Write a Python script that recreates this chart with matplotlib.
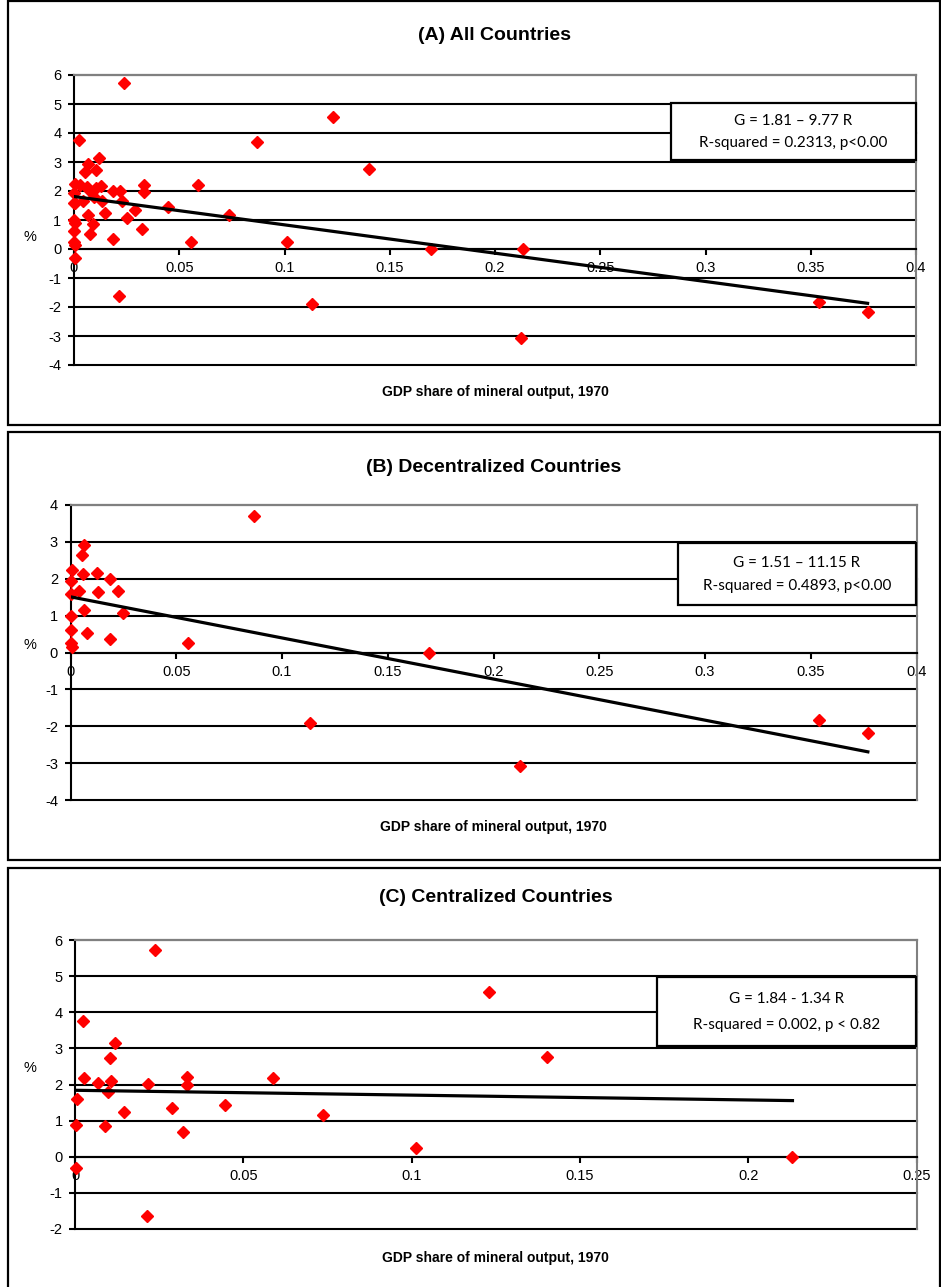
import numpy as np
import matplotlib.pyplot as plt
from matplotlib.patches import Rectangle

plt.rcParams['font.family'] = ['Liberation Sans', 'DejaVu Sans']
plt.rcParams['axes.unicode_minus'] = False

# decentralized countries (panel B)
x_dec = [0.0065, 0.0053, 0.0006, 0.0060, 0.0127, 0.0187, 0.0002, 0.0042, 0.0132, 0.0226,
         0.0000, 0.0065, 0.0250, 0.0000, 0.0000, 0.0077, 0.0187, 0.0557, 0.0000, 0.0006,
         0.0868, 0.1695, 0.1132, 0.2125, 0.3540, 0.3770]
y_dec = [2.92, 2.64, 2.24, 2.14, 2.16, 1.99, 1.94, 1.67, 1.65, 1.67,
         1.58, 1.16, 1.06, 0.99, 0.61, 0.52, 0.36, 0.25, 0.25, 0.14,
         3.70, 0.00, -1.90, -3.08, -1.84, -2.18]

# centralized countries (panel C)
x_cen = [0.0238, 0.0023, 0.0118, 0.0104, 0.0027, 0.0106, 0.0069, 0.0218, 0.0332, 0.0334,
         0.0587, 0.0097, 0.0005, 0.0146, 0.0289, 0.0446, 0.0737, 0.0003, 0.0090, 0.0321,
         0.0004, 0.0213, 0.1229, 0.1401, 0.1013, 0.2131]
y_cen = [5.72, 3.76, 3.14, 2.73, 2.19, 2.10, 2.03, 2.01, 2.22, 1.98,
         2.19, 1.78, 1.59, 1.25, 1.35, 1.44, 1.16, 0.88, 0.86, 0.68,
         -0.31, -1.63, 4.55, 2.76, 0.25, 0.00]

x_all = x_dec + x_cen
y_all = y_dec + y_cen

# regression lines G = a + b R
fit_all = (1.81, -9.77)
fit_dec = (1.51, -11.15)
fit_cen = (1.84, -1.34)

eq_all = ["G = 1.81 \u2013 9.77 R", "R-squared = 0.2313, p<0.00"]
eq_dec = ["G = 1.51 \u2013 11.15 R", "R-squared = 0.4893, p<0.00"]
eq_cen = ["G = 1.84 - 1.34 R", "R-squared = 0.002, p < 0.82"]

xlab = "GDP share of mineral output, 1970"
box_font = ['Lato', 'Liberation Sans', 'DejaVu Sans']

W, H = 941, 1287
fig = plt.figure(figsize=(W / 100, H / 100), dpi=100)


def fx(px):
    return px / W


def fy(py):
    return 1 - py / H


def panel(area, frame, x, y, fit, xmax, ylim, title, title_y, xlab_y, pct_y, box, eq):
    l, t, r, b = area
    # outer frame
    fl, ft, fr, fb = frame
    fig.add_artist(Rectangle((fx(fl), fy(fb)), fx(fr - fl), (fb - ft) / H,
                             transform=fig.transFigure, fill=False,
                             edgecolor='black', lw=1.6, zorder=1))
    ax = fig.add_axes([fx(l), fy(b), fx(r - l), (b - t) / H])
    ax.set_xlim(0, xmax)
    ax.set_ylim(*ylim)
    xt = np.arange(0, xmax + 0.001, 0.05)
    ax.set_xticks(xt)
    ax.set_xticklabels([f"{v:g}" for v in xt])
    ax.set_yticks(np.arange(ylim[0], ylim[1] + 1, 1))
    ax.yaxis.grid(True, color='black', lw=1.5)
    for gl in ax.get_ygridlines():
        gl.set_clip_on(False)
    ax.set_axisbelow(True)
    ax.spines['bottom'].set_position(('data', 0))
    ax.spines['bottom'].set_linewidth(1.5)
    ax.spines['left'].set_linewidth(1.5)
    for s in ['top', 'right']:
        ax.spines[s].set_color('#808080')
        ax.spines[s].set_linewidth(1.5)
    ax.tick_params(axis='x', direction='out', length=4, width=1.5, pad=5, labelsize=10.5)
    ax.tick_params(axis='y', direction='out', length=4, width=1.5, pad=5, labelsize=10.5)

    ax.plot(x, y, 'D', color='#ff0000', ms=6.5, mec='#ff0000', zorder=3, clip_on=False)
    xs = np.array([0, max(x)])
    ax.plot(xs, fit[0] + fit[1] * xs, color='black', lw=2.3, zorder=4)

    cx = (l + r) / 2
    fig.text(fx(cx), fy(title_y), title, ha='center', va='center',
             fontsize=14, fontweight='bold')
    fig.text(fx(cx), fy(xlab_y), xlab, ha='center', va='center',
             fontsize=10, fontweight='bold')
    fig.text(fx(30), fy(pct_y), "%", ha='center', va='center', fontsize=10.5)

    bl, bt, br, bb = box
    fig.add_artist(Rectangle((fx(bl), fy(bb)), fx(br - bl), (bb - bt) / H,
                             transform=fig.transFigure, facecolor='white',
                             edgecolor='black', lw=1.6, zorder=5))
    h = bb - bt
    fig.text(fx((bl + br) / 2), fy(bt + h * 0.32), eq[0], ha='center', va='center',
             fontsize=11, family=box_font, zorder=6)
    fig.text(fx((bl + br) / 2), fy(bt + h * 0.70), eq[1], ha='center', va='center',
             fontsize=11, family=box_font, zorder=6)
    return ax


panel((74, 75, 916, 365), (8, 1, 940, 425), x_all, y_all, fit_all, 0.4, (-4, 6),
      "(A) All Countries", 36, 392, 237, (671, 103, 916, 160), eq_all)
panel((70.5, 505, 916.5, 800), (8, 432, 940, 860), x_dec, y_dec, fit_dec, 0.4, (-4, 4),
      "(B) Decentralized Countries", 468, 827, 645, (678, 543, 916, 605), eq_dec)
panel((75, 940, 916.7, 1229), (8, 868, 940, 1292), x_cen, y_cen, fit_cen, 0.25, (-2, 6),
      "(C) Centralized Countries", 898, 1258, 1068, (657, 977, 916, 1046), eq_cen)

fig.savefig("out.png", dpi=100)
